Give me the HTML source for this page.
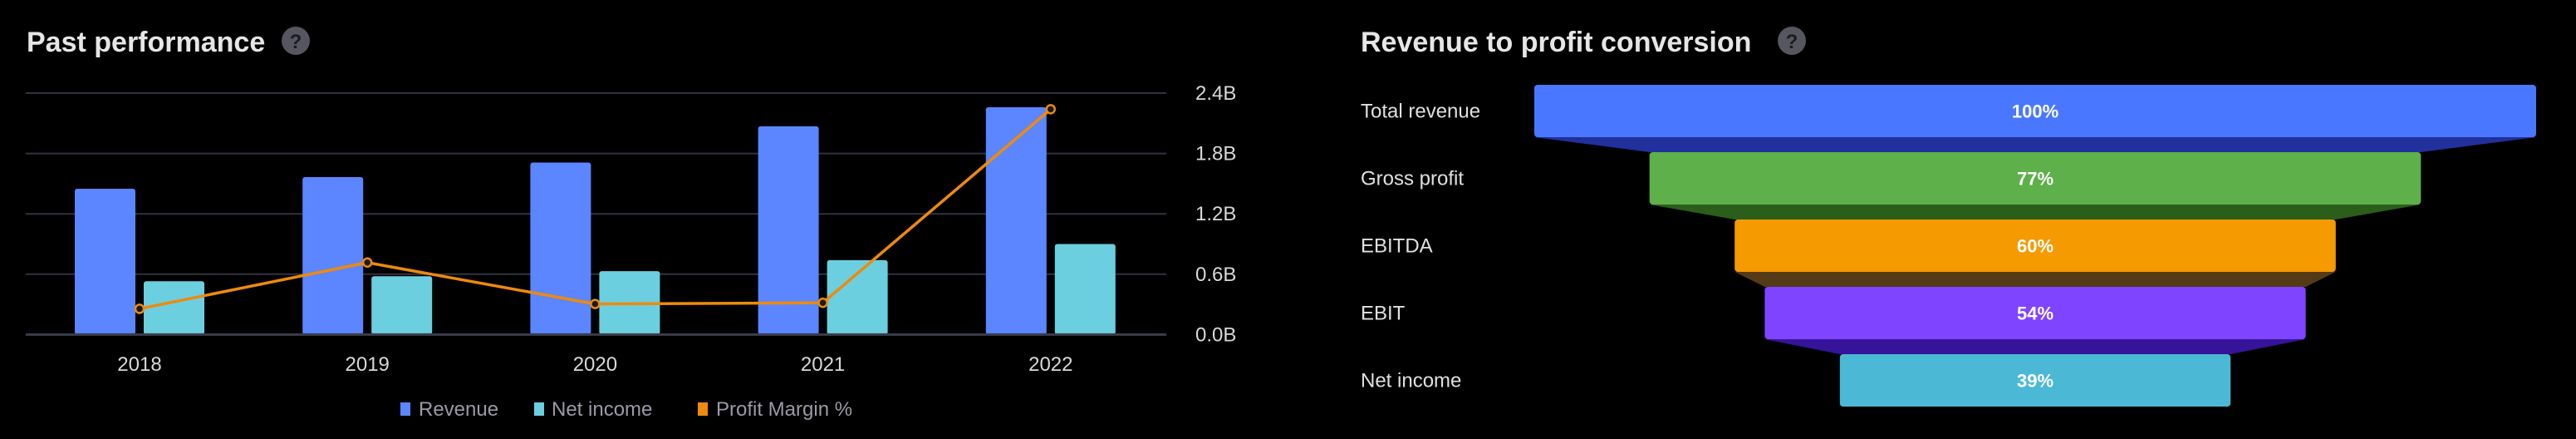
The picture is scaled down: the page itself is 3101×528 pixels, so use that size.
<!DOCTYPE html>
<html><head><meta charset="utf-8"><style>
html,body{margin:0;padding:0;background:#000;width:3101px;height:528px;overflow:hidden;font-family:"Liberation Sans",sans-serif}
svg{position:absolute;left:0;top:0}
</style></head><body>
<svg width="3101" height="528" id="svg">
<g>
<text x="32" y="62" font-size="34" font-weight="bold" fill="#e6e6e6">Past performance</text>
<circle cx="356" cy="49" r="17" fill="#55565e"/>
<text x="356" y="58" font-size="24" font-weight="bold" fill="#1b1b1f" text-anchor="middle">?</text>
</g>
<g id="chart"></g>
<g>
<g><rect x="482" y="484" width="12" height="16" fill="#5b86ff"/><text x="504" y="500" font-size="24" fill="#9a9aa8">Revenue</text></g>
<g><rect x="643" y="484" width="12" height="16" fill="#6ccfe0"/><text x="664" y="500" font-size="24" fill="#9a9aa8">Net income</text></g>
<g><rect x="840" y="484" width="12" height="16" fill="#ee8a0d"/><text x="862" y="500" font-size="24" fill="#9a9aa8">Profit Margin %</text></g>
</g>
<g>
<text x="1638" y="62" font-size="34" font-weight="bold" fill="#e6e6e6">Revenue to profit conversion</text>
<circle cx="2157" cy="49" r="17" fill="#55565e"/>
<text x="2157" y="58" font-size="24" font-weight="bold" fill="#1b1b1f" text-anchor="middle">?</text>
</g>
<g id="funnel"></g>
</svg>
<script>
const categories=["2018","2019","2020","2021","2022"];
const revenue=[1.45,1.565,1.71,2.07,2.26];
const netIncome=[0.53,0.58,0.63,0.74,0.90];
const profitMargin=[6.4,17.9,7.6,7.9,56.0];
const yTicks=[0,0.6,1.2,1.8,2.4];
const yTickLabels=["0.0B","0.6B","1.2B","1.8B","2.4B"];
const funnelLabels=["Total revenue","Gross profit","EBITDA","EBIT","Net income"];
const funnelPct=[100,77,60,54,39];

const NS="http://www.w3.org/2000/svg";
function mk(tag,attrs,parent){const e=document.createElementNS(NS,tag);for(const k in attrs)e.setAttribute(k,attrs[k]);parent.appendChild(e);return e;}
const chart=document.getElementById('chart');
const y0=402.4,y1=112;
const y=v=>y0-(v/2.4)*(y0-y1);
const ym=v=>y0-(v/60)*(y0-y1);
const x=i=>168+i*274.2;
yTicks.forEach((t,i)=>{
 const l=mk('line',{x1:31,x2:1404,y1:y(t),y2:y(t),stroke:'#30333f','stroke-width':2},chart);
 
 
 const tx=mk('text',{x:1439,y:y(t)+8,'font-size':24,fill:'#d8d8d8'},chart);
 tx.textContent=yTickLabels[i];
 
 
});
categories.forEach((c,i)=>{
 const r=mk('rect',{x:x(i)-78,y:y(revenue[i]),width:73,height:y0-y(revenue[i]),fill:'#5b86ff',rx:3},chart);
 
 
 const n=mk('rect',{x:x(i)+5,y:y(netIncome[i]),width:73,height:y0-y(netIncome[i]),fill:'#6ccfe0',rx:3},chart);
 
 
 const t=mk('text',{x:x(i),y:446,'font-size':24,fill:'#d8d8d8','text-anchor':'middle'},chart);
 t.textContent=c;
 
 
});
const base=mk('line',{x1:31,x2:1404,y1:y0,y2:y0,stroke:'#3a3d4a','stroke-width':3},chart);


const pl=mk('polyline',{points:profitMargin.map((v,i)=>x(i)+','+ym(v)).join(' '),fill:'none',stroke:'#ee8a0d','stroke-width':3.5},chart);


profitMargin.forEach((v,i)=>{
 const p=mk('circle',{cx:x(i),cy:ym(v),r:5,fill:'#1a1a1a',stroke:'#ee8a0d','stroke-width':2.5},chart);
 
 
});
const funnel=document.getElementById('funnel');
const colors=['#4a77ff','#5db04a','#f59a00','#7f44ff','#4bb9d6'];
const dark=['#21309c','#2a5e1a','#553a17','#35149a'];
const cx=2450,fullW=1206,top0=102,barH=63,gap=18;
funnelPct.forEach((p,i)=>{
 const w=fullW*p/100,ty=top0+i*(barH+gap);
 if(i<funnelPct.length-1){
  const w2=fullW*funnelPct[i+1]/100;
  const tr=mk('polygon',{points:`${cx-w/2},${ty+barH} ${cx+w/2},${ty+barH} ${cx+w2/2},${ty+barH+gap} ${cx-w2/2},${ty+barH+gap}`,fill:dark[i]},funnel);
  
  
 }
 const r=mk('rect',{x:cx-w/2,y:ty,width:w,height:barH,rx:4,fill:colors[i]},funnel);
 
 
 const t=mk('text',{x:cx,y:ty+barH/2+8,'font-size':22,'font-weight':'bold',fill:'#fff','text-anchor':'middle'},funnel);
 t.textContent=p+'%';
 
 
 const l=mk('text',{x:1638,y:ty+barH/2+8,'font-size':24,fill:'#e0e0e0'},funnel);
 l.textContent=funnelLabels[i];
 
 
});
</script>
</body></html>
